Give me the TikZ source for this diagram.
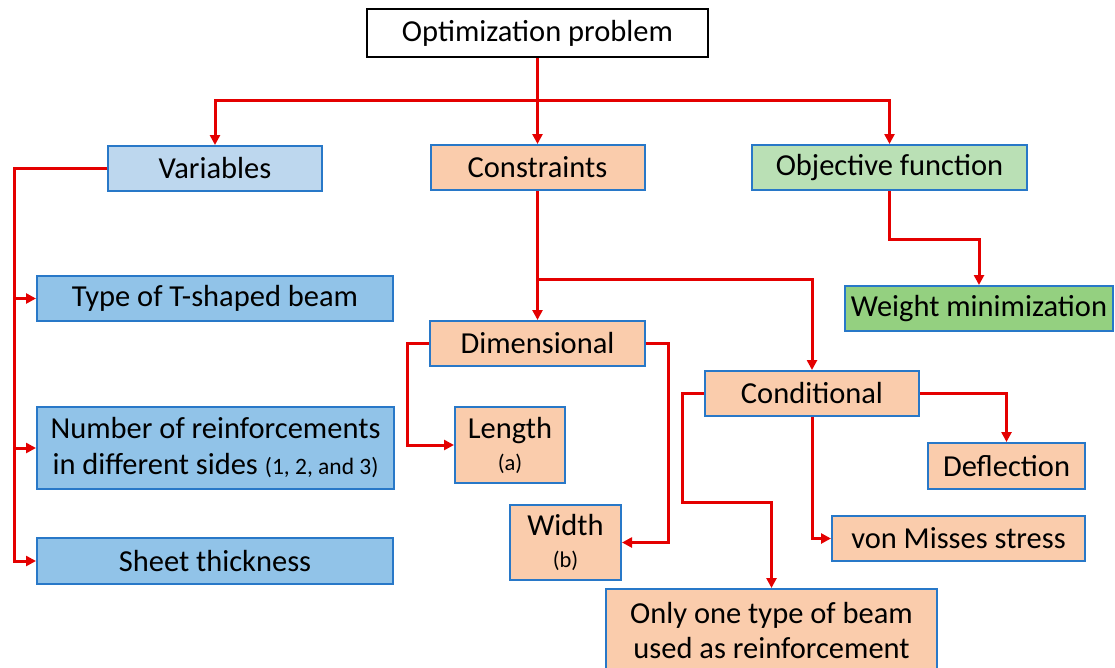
\documentclass[tikz,border=0pt]{standalone}
\usepackage{fontspec}
\setmainfont{Carlito}
\usetikzlibrary{arrows.meta}
\definecolor{redline}{RGB}{228,0,0}
\definecolor{bord}{RGB}{40,120,200}
\definecolor{lblue}{RGB}{189,215,238}
\definecolor{mblue}{RGB}{145,195,232}
\definecolor{peach}{RGB}{250,204,172}
\definecolor{lgreen}{RGB}{186,224,181}
\definecolor{mgreen}{RGB}{148,208,128}
\begin{document}
\begin{tikzpicture}[x=1pt,y=-1pt,
  box/.style={draw=bord,line width=2pt,inner sep=0pt,align=center,font=\fontsize{30.5}{36}\selectfont},
  conn/.style={draw=redline,line width=3pt},
  arr/.style={conn,-{Triangle[length=10pt,width=10pt]}}]
\useasboundingbox (0,0) rectangle (1115,667);
\clip (0,0) rectangle (1115,667);
\fill[white] (0,0) rectangle (1115,667);
% nodes
\node[box,draw=black,line width=2.5pt,fill=white,minimum width=341pt,minimum height=48pt] (opt) at (537.5,33) {Optimization problem};
\node[box,fill=lblue,minimum width=214pt,minimum height=45pt] (var) at (215,168.5) {Variables};
\node[box,fill=peach,minimum width=214pt,minimum height=45pt] (cons) at (537.5,167.5) {Constraints};
\node[box,fill=lgreen,minimum width=275pt,minimum height=45pt] (obj) at (889.5,167.5) {Objective function};
\node[box,fill=mgreen,minimum width=268pt,minimum height=45pt] (wm) at (979,308.5) {Weight minimization};
\node[box,fill=mblue,minimum width=356pt,minimum height=45pt] (type) at (215,298.5) {Type of T-shaped beam};
\node[box,fill=mblue,minimum width=357pt,minimum height=82pt] (num) at (215.5,448) {Number of reinforcements\\in different sides {\fontsize{23.5}{36}\selectfont(1, 2, and 3)}};
\node[box,fill=mblue,minimum width=356pt,minimum height=46pt] (sheet) at (215,561) {Sheet thickness};
\node[box,fill=peach,minimum width=215pt,minimum height=45pt] (dim) at (537.5,343.5) {Dimensional};
\node[box,fill=peach,minimum width=214pt,minimum height=45pt] (cond) at (812,393.5) {Conditional};
\node[box,fill=peach,minimum width=110pt,minimum height=76pt] (len) at (510,445) {Length\\[-4pt]{\fontsize{22.5}{30}\selectfont(a)}};
\node[box,fill=peach,minimum width=111pt,minimum height=75pt] (wid) at (565.5,542.5) {Width\\[-4pt]{\fontsize{22.5}{30}\selectfont(b)}};
\node[box,fill=peach,minimum width=157pt,minimum height=46pt] (defl) at (1006.5,466) {Deflection};
\node[box,fill=peach,minimum width=253pt,minimum height=45pt] (vm) at (958.5,538.5) {von Misses stress};
\node[box,fill=peach,minimum width=331pt,minimum height=84pt,anchor=north,font=\fontsize{30.5}{35}\selectfont] (only) at (771.5,588) {Only one type of beam\\used as reinforcement};
% connectors
\coordinate (bus) at (537.5,100);
\draw[arr] (opt.south) -- (cons.north);
\draw[arr] (opt.south) -- (bus) -| (var.north);
\draw[arr] (opt.south) -- (bus) -| (obj.north);
\draw[arr] (obj.south) -- ++(0,48) -| (wm.north);
\coordinate (vl) at (14,168.5);
\draw[arr] (var.west) -- (vl) |- (type.west);
\draw[arr] (var.west) -- (vl) |- (num.west);
\draw[arr] (var.west) -- (vl) |- (sheet.west);
\coordinate (cb) at (537.5,279);
\draw[arr] (cons.south) -- (dim.north);
\draw[arr] (cons.south) -- (cb) -| (cond.north);
\draw[arr] (dim.west) -- ++(-22,0) |- (len.west);
\draw[arr] (dim.east) -- ++(22,0) |- (wid.east);
\draw[arr] (cond.west) -- ++(-22,0) -- ++(0,108.5) -| (only.north);
\draw[arr] (cond.south) |- (vm.west);
\draw[arr] (cond.east) -| (defl.north);
\end{tikzpicture}
\end{document}
